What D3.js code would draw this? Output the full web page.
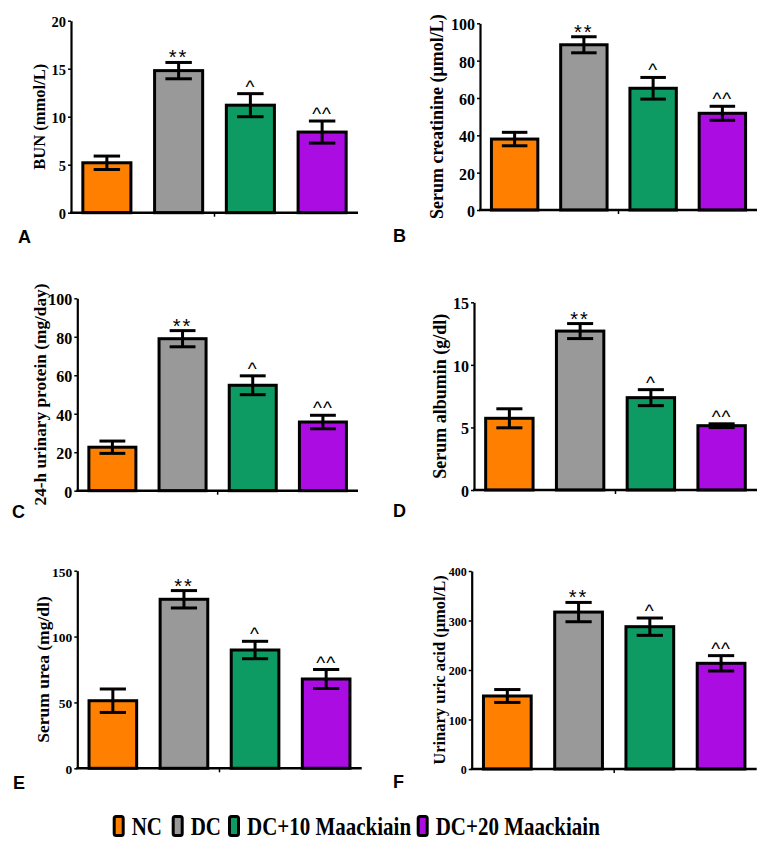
<!DOCTYPE html>
<html><head><meta charset="utf-8">
<script src="https://cdn.jsdelivr.net/npm/d3@7"></script>
<style>
html,body{margin:0;padding:0;background:#fff;}
svg{display:block;}
</style></head>
<body>
<svg id="chart" width="763" height="847"></svg>
<script>
// ---- data ----
const categories = ["NC", "DC", "DC+10 Maackiain", "DC+20 Maackiain"];
const colors = ["#FF8000", "#999999", "#0E9A63", "#AA0CE2"];
const signif = ["", "**", "^", "^^"];

const bunMeans = [5.2, 14.8, 11.2, 8.4];
const bunErr = [0.7, 0.85, 1.2, 1.15];
const bunTicks = [0, 5, 10, 15, 20];

const creatMeans = [38, 88.5, 65.2, 51.8];
const creatErr = [3.6, 4.3, 5.8, 3.75];
const creatTicks = [0, 20, 40, 60, 80, 100];

const proteinMeans = [22.6, 79, 54.8, 35.7];
const proteinErr = [3.2, 4.2, 4.9, 3.5];
const proteinTicks = [0, 20, 40, 60, 80, 100];

const albuminMeans = [5.73, 12.7, 7.38, 5.14];
const albuminErr = [0.76, 0.6, 0.64, 0.15];
const albuminTicks = [0, 5, 10, 15];

const ureaMeans = [51.3, 128.3, 89.8, 67.8];
const ureaErr = [8.9, 6.6, 6.6, 7.2];
const ureaTicks = [0, 50, 100, 150];

const uricMeans = [147.5, 317, 287.5, 213.5];
const uricErr = [13, 19.5, 17.5, 15.5];
const uricTicks = [0, 100, 200, 300, 400];

const panels = [
  {letter: "A", title: "BUN (mmol/L)", means: bunMeans, errs: bunErr, ticks: bunTicks,
   x0: 71, x1: 358, yTop: 20.7, yZero: 212.7, titleX: 45, titleFs: 16.5, tickFs: 14.5, lx: 18, ly: 243},
  {letter: "B", title: "Serum creatinine (μmol/L)", means: creatMeans, errs: creatErr, ticks: creatTicks,
   x0: 480, x1: 757, yTop: 23.3, yZero: 210, titleX: 443, titleFs: 18, tickFs: 16, lx: 393, ly: 242},
  {letter: "C", title: "24-h urinary protein (mg/day)", means: proteinMeans, errs: proteinErr, ticks: proteinTicks,
   x0: 77.3, x1: 358, yTop: 298.3, yZero: 490.7, titleX: 46, titleFs: 17.3, tickFs: 16, lx: 12, ly: 518},
  {letter: "D", title: "Serum albumin (g/dl)", means: albuminMeans, errs: albuminErr, ticks: albuminTicks,
   x0: 474, x1: 757, yTop: 302.3, yZero: 490, titleX: 446, titleFs: 18, tickFs: 16, lx: 393, ly: 517},
  {letter: "E", title: "Serum urea (mg/dl)", means: ureaMeans, errs: ureaErr, ticks: ureaTicks,
   x0: 77.3, x1: 361.7, yTop: 570.7, yZero: 768.3, titleX: 49, titleFs: 17.5, tickFs: 13.5, lx: 13, ly: 789},
  {letter: "F", title: "Urinary uric acid (μmol/L)", means: uricMeans, errs: uricErr, ticks: uricTicks,
   x0: 471.7, x1: 756.7, yTop: 571, yZero: 769, titleX: 445, titleFs: 16.5, tickFs: 12, lx: 393, ly: 788}
];

const svg = d3.select("#chart");
const serif = "'Liberation Serif','Times New Roman',serif";
const sans = "'Liberation Sans',Arial,sans-serif";

panels.forEach(p => {
  const g = svg.append("g");
  const x = d3.scaleBand().domain(categories).range([p.x0, p.x1])
    .paddingInner(0.33).paddingOuter(0.165);
  const y = d3.scaleLinear().domain([0, d3.max(p.ticks)]).range([p.yZero, p.yTop]);

  // y axis
  const ax = g.append("g").attr("transform", `translate(${p.x0},0)`)
    .call(d3.axisLeft(y).tickValues(p.ticks).tickSize(3).tickSizeOuter(0).tickPadding(2));
  ax.select(".domain").attr("stroke", "#000").attr("stroke-width", 2.2);
  ax.selectAll(".tick line").attr("stroke", "#000").attr("stroke-width", 1.5);
  ax.selectAll(".tick text").attr("font-family", serif).attr("font-weight", "bold")
    .attr("font-size", p.tickFs).attr("fill", "#000").attr("dy", "0.4em");

  // bars
  const data = categories.map((c, i) => ({c, v: p.means[i], e: p.errs[i], col: colors[i], s: signif[i]}));
  g.selectAll("rect.bar").data(data).join("rect").attr("class", "bar")
    .attr("x", d => x(d.c)).attr("width", x.bandwidth())
    .attr("y", d => y(d.v)).attr("height", d => y(0) - y(d.v))
    .attr("fill", d => d.col).attr("stroke", "#000").attr("stroke-width", 3);

  // error bars
  const capW = x.bandwidth() * 0.55;
  const eb = g.selectAll("g.err").data(data).join("g").attr("class", "err")
    .attr("stroke", "#000").attr("stroke-width", 3);
  eb.append("line").attr("x1", d => x(d.c) + x.bandwidth()/2).attr("x2", d => x(d.c) + x.bandwidth()/2)
    .attr("y1", d => y(d.v + d.e)).attr("y2", d => y(d.v - d.e));
  eb.append("line").attr("x1", d => x(d.c) + x.bandwidth()/2 - capW/2).attr("x2", d => x(d.c) + x.bandwidth()/2 + capW/2)
    .attr("y1", d => y(d.v + d.e)).attr("y2", d => y(d.v + d.e));
  eb.append("line").attr("x1", d => x(d.c) + x.bandwidth()/2 - capW/2).attr("x2", d => x(d.c) + x.bandwidth()/2 + capW/2)
    .attr("y1", d => y(d.v - d.e)).attr("y2", d => y(d.v - d.e));

  // significance marks
  g.selectAll("text.sig").data(data.filter(d => d.s)).join("text").attr("class", "sig")
    .attr("x", d => x(d.c) + x.bandwidth()/2)
    .attr("y", d => y(d.v + d.e) + (d.s === "**" ? 2 : -1))
    .attr("text-anchor", "middle").attr("font-family", sans)
    .attr("font-size", d => d.s === "**" ? 20 : 19)
    .attr("letter-spacing", d => d.s === "**" ? 2 : 1)
    .attr("fill", "#000").text(d => d.s);

  // x axis line
  g.append("line").attr("x1", p.x0 - 1).attr("x2", p.x1).attr("y1", p.yZero).attr("y2", p.yZero)
    .attr("stroke", "#000").attr("stroke-width", 2.5);
  const mid = (p.x0 + p.x1) / 2;
  g.append("line").attr("x1", mid).attr("x2", mid).attr("y1", p.yZero).attr("y2", p.yZero + 4)
    .attr("stroke", "#000").attr("stroke-width", 1.5);

  // y title
  g.append("text")
    .attr("transform", `translate(${p.titleX},${(p.yTop + p.yZero)/2}) rotate(-90)`)
    .attr("text-anchor", "middle").attr("font-family", serif).attr("font-weight", "bold")
    .attr("font-size", p.titleFs).attr("fill", "#000").text(p.title);

  // panel letter
  g.append("text").attr("x", p.lx).attr("y", p.ly).attr("font-family", sans)
    .attr("font-weight", "bold").attr("font-size", 18).attr("fill", "#000").text(p.letter);
});

// legend
const legendX = [112.7, 171.7, 228, 416.7];
const lg = svg.append("g");
categories.forEach((c, i) => {
  lg.append("rect").attr("x", legendX[i] + 1.5).attr("y", 816.5).attr("width", 9).attr("height", 19)
    .attr("rx", 2).attr("fill", colors[i]).attr("stroke", "#000").attr("stroke-width", 3);
  lg.append("text").attr("transform", `translate(${legendX[i] + 19},835) scale(1,1.18)`)
    .attr("font-family", serif).attr("font-weight", "bold").attr("font-size", 21)
    .attr("fill", "#000").text(c);
});
</script>
</body></html>
